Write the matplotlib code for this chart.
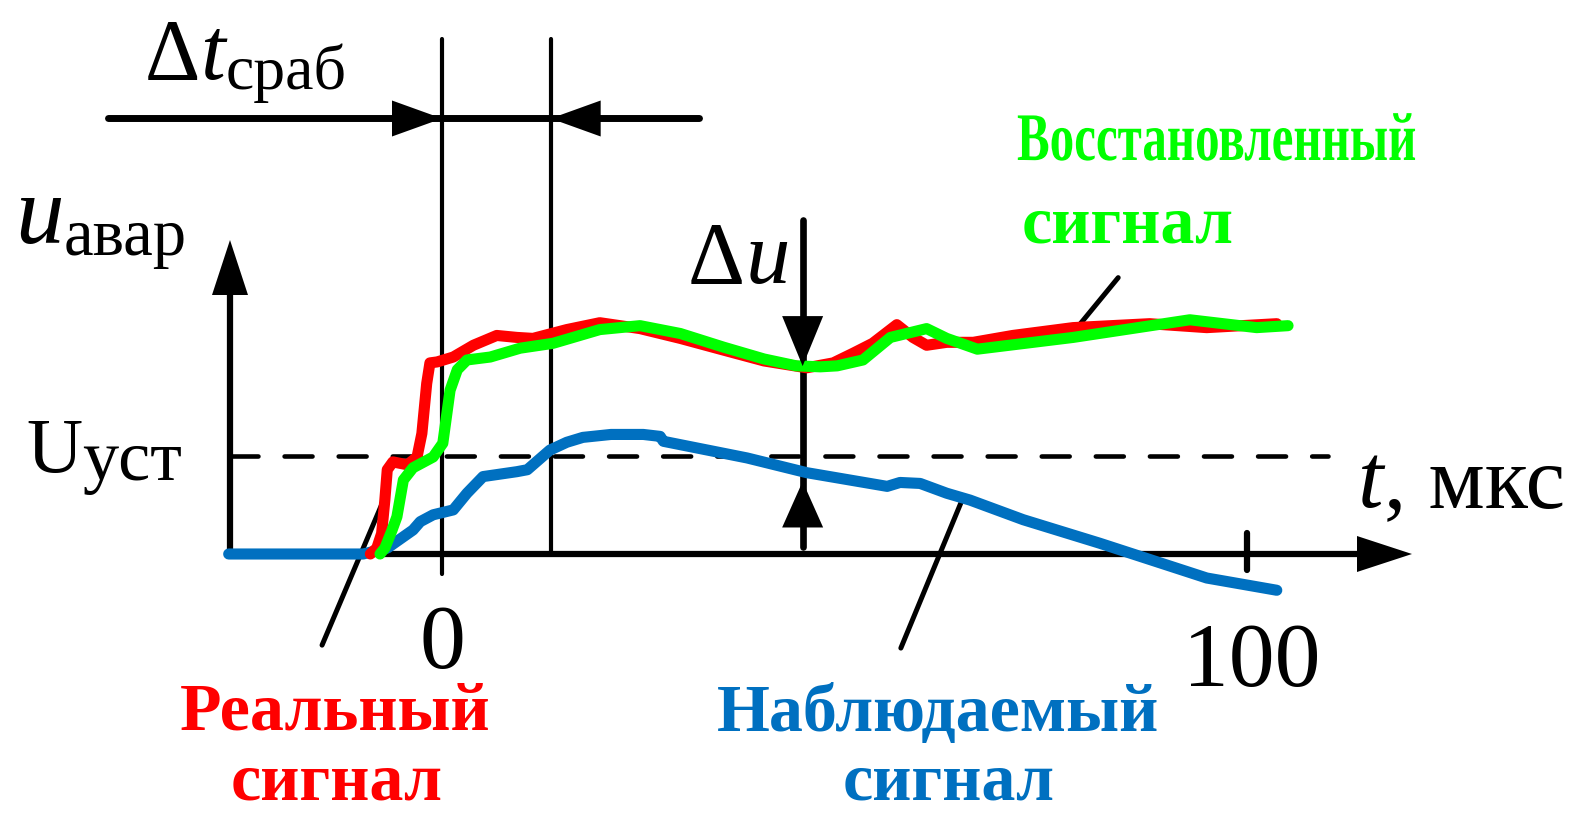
import numpy as np
import matplotlib
matplotlib.use("Agg")
import matplotlib.pyplot as plt
from matplotlib.patches import Polygon
from matplotlib.patheffects import AbstractPathEffect
from matplotlib.transforms import Affine2D

plt.rcParams['font.family'] = ['Liberation Serif', 'DejaVu Serif']

# scale of the sketch: pixels per microsecond and per unit of U_set
PX_T = 8.05
PX_U = 98.0

# observed signal (blue)
t_obs = [-26.5, -9.8, -6.8, -3.6, -2.7, -1.1, 1.4, 3.1, 5.1, 9.3, 10.6, 13.4, 15.5, 17.5,
         21.0, 25.0, 27.1, 27.5, 37.9, 45.3, 55.3, 56.9, 59.4, 62.7, 65.6, 72.2, 81.7, 95.0, 103.7]
u_obs = [0.0, 0.0, 0.06, 0.245, 0.33, 0.40, 0.45, 0.62, 0.79, 0.84, 0.86, 1.06, 1.14, 1.19,
         1.22, 1.22, 1.20, 1.15, 0.98, 0.83, 0.69, 0.73, 0.72, 0.62, 0.55, 0.35, 0.11, -0.245, -0.37]

# real signal (red)
t_real = [-8.9, -8.1, -7.5, -7.1, -6.8, -6.1, -4.3, -3.1, -2.5, -1.9, -1.5, -0.6, 1.4, 3.9,
          6.8, 9.3, 11.3, 15.5, 19.6, 24.6, 29.6, 35.0, 40.0, 45.3, 48.6, 51.1, 53.5, 56.5,
          58.5, 60.2, 62.7, 66.0, 70.9, 78.4, 87.9, 95.0, 103.7]
u_real = [0.0, 0.06, 0.21, 0.55, 0.86, 0.94, 0.91, 0.99, 1.23, 1.74, 1.95, 1.96, 2.01, 2.13,
          2.23, 2.21, 2.20, 2.29, 2.36, 2.30, 2.20, 2.08, 1.97, 1.90, 1.95, 2.05, 2.15, 2.34,
          2.21, 2.13, 2.16, 2.16, 2.23, 2.31, 2.35, 2.31, 2.35]

# restored signal (green)
t_rest = [-7.7, -7.1, -6.2, -5.6, -4.8, -3.6, -1.1, 0.1, 0.5, 1.0, 1.9, 3.1, 6.0, 9.7, 13.8,
          19.6, 24.6, 29.6, 35.0, 40.0, 44.0, 47.0, 49.1, 52.3, 55.7, 60.2, 62.7, 66.5, 78.4,
          92.9, 101.2, 105.1]
u_rest = [0.0, 0.06, 0.245, 0.38, 0.755, 0.88, 0.99, 1.13, 1.37, 1.67, 1.88, 1.98, 2.01, 2.10,
          2.15, 2.29, 2.33, 2.25, 2.11, 1.99, 1.92, 1.91, 1.92, 1.98, 2.21, 2.30, 2.20, 2.09,
          2.21, 2.39, 2.31, 2.33]

U_set = 1.0
t_trip = 0.0
t_done = 13.5
t_du = 44.8
t_ticks = [0, 100]
tick_labels = ['0', '100']

RED = '#FF0000'
GREEN = '#00FF00'
BLUE = '#0070C0'

fig = plt.figure(figsize=(15.87, 8.15), dpi=100)
ax = fig.add_axes([0, 0, 1, 1])
ax.set_xlim(-442 / PX_T, (1587 - 442) / PX_T)
ax.set_ylim(-(815 - 554) / PX_U, 554 / PX_U)
ax.axis('off')


def head(tip_t, tip_u, dx, dy, length=52, width=36):
    # filled triangular arrow head, size given in pixels
    bx = tip_t - dx * length / PX_T
    by = tip_u - dy * length / PX_U
    px, py = -dy, dx
    pts = [(tip_t, tip_u),
           (bx + px * width / 2 / PX_T, by + py * width / 2 / PX_U),
           (bx - px * width / 2 / PX_T, by - py * width / 2 / PX_U)]
    ax.add_patch(Polygon(pts, closed=True, color='black', lw=0, zorder=6))


def line(ts, us, lw, **kw):
    ax.plot(ts, us, color='black', lw=lw, solid_capstyle='round', zorder=4, **kw)


t_axis = (230 - 442) / PX_T
t_arrow = (1412 - 442) / PX_T
u_arrow = (554 - 240) / PX_U

# axes with arrows
line([t_axis, t_axis], [0, u_arrow - 0.3], 4.5)
head(t_axis, u_arrow, 0, 1, length=55, width=36)
line([t_axis, t_arrow - 3], [0, 0], 4.5)
head(t_arrow, 0, 1, 0, length=55, width=36)

# tick at 100
line([t_ticks[1], t_ticks[1]], [0.21, -0.16], 4.5)

# setting level
ax.plot([t_axis, 110], [U_set, U_set], color='black', lw=3.3,
        dashes=(6.1, 5.7), dash_capstyle='round', zorder=3)

# trip interval
u_top = (554 - 39) / PX_U
line([t_trip, t_trip], [-0.2, u_top], 3.0)
line([t_done, t_done], [0, u_top], 3.0)
u_bar = (554 - 118.5) / PX_U
line([-41.5, 31.9], [u_bar, u_bar], 5.0)
head(t_trip, u_bar, 1, 0, length=50, width=36)
head(t_done, u_bar, -1, 0, length=50, width=36)

# signals
style = dict(lw=8, solid_capstyle='round', solid_joinstyle='round', zorder=5)
ax.plot(t_obs, u_obs, color=BLUE, **style)
ax.plot(t_real, u_real, color=RED, **style)
ax.plot(t_rest, u_rest, color=GREEN, **style)

# voltage error marker
u_green = np.interp(t_du, t_rest, u_rest)
line([t_du, t_du], [(554 - 220) / PX_U, (554 - 547) / PX_U], 4.8)
head(t_du, u_green, 0, -1, length=50, width=41)
head(t_du, 0.74, 0, 1, length=46, width=41)

# leader lines
line([-7.1, -14.9], [0.58, -0.93], 3.6)
line([64.5, 57.0], [0.53, -0.96], 3.6)
line([78.1, 84.0], [2.23, 2.82], 3.6)

renderer = fig.canvas.get_renderer()


def chain(x_px, y_px, parts):
    # text pieces laid out one after another; dy lowers a piece (pixels)
    x = (x_px - 442) / PX_T
    y = (554 - y_px) / PX_U
    off = 0
    for s, size, style, dy in parts:
        txt = ax.annotate(s, (x, y), xytext=(off, -dy), textcoords='offset pixels',
                          fontsize=size, style=style, ha='left', va='baseline', zorder=7)
        off += txt.get_window_extent(renderer).width


chain(145, 79, [('Δ', 62, 'normal', 0), ('t', 64, 'italic', 0), ('сраб', 46, 'normal', 10)])
chain(15, 243, [('u', 70, 'italic', 0), ('авар', 48, 'normal', 12)])
chain(26, 472, [('U', 56, 'normal', 0), ('уст', 52, 'normal', 8)])
chain(688, 283, [('Δ', 64, 'normal', 0), ('u', 64, 'italic', 0)])
chain(1358, 507, [('t', 66, 'italic', 0), (', мкс', 64, 'normal', 0)])

for tv, lab in zip(t_ticks, tick_labels):
    ax.text(tv + (0.6 if tv else 0.0), (554 - (668 if tv == 0 else 686)) / PX_U, lab,
            fontsize=66, ha='center', va='baseline')


class Squeeze(AbstractPathEffect):
    """Narrows glyphs horizontally about the left end of the text."""

    def __init__(self, sx):
        super().__init__()
        self.sx = sx

    def draw_path(self, renderer, gc, tpath, affine, rgbFace=None):
        x0 = affine.transform((0, 0))[0]
        aff = affine + Affine2D().translate(-x0, 0).scale(self.sx, 1).translate(x0, 0)
        renderer.draw_path(gc, tpath, aff, rgbFace)


def bold(x_px, y_px, s, color, sx=1.0):
    kw = {}
    if sx != 1.0:
        kw['path_effects'] = [Squeeze(sx)]
    ax.text((x_px - 442) / PX_T, (554 - y_px) / PX_U, s, color=color, fontsize=49,
            fontweight='bold', ha='left', va='baseline', **kw)


bold(1017, 160, 'Восстановленный', GREEN, sx=0.72)
bold(1022, 243, 'сигнал', GREEN)
bold(180, 729, 'Реальный', RED)
bold(231, 800, 'сигнал', RED)
bold(717, 731, 'Наблюдаемый', BLUE)
bold(843, 800, 'сигнал', BLUE)

fig.savefig('out.png', dpi=100)
